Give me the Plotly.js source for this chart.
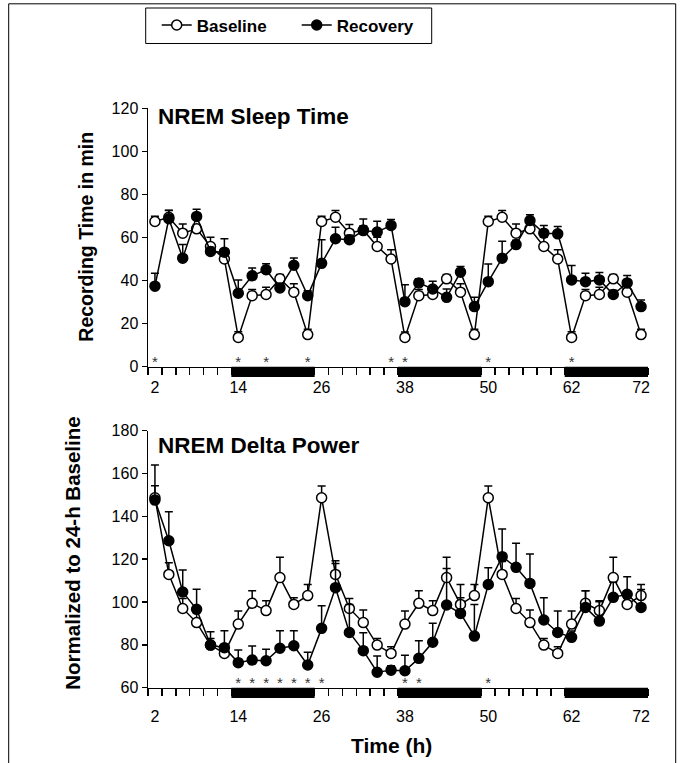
<!DOCTYPE html>
<html>
<head>
<meta charset="utf-8">
<script src="https://cdn.plot.ly/plotly-3.0.1.min.js"></script>
<style>html,body{margin:0;padding:0;background:#fff;}#chart{width:686px;height:763px;}</style>
</head>
<body>
<div id="chart"></div>
<script>
// ---- data ----
const hours = [2,4,6,8,10,12,14,16,18,20,22,24,26,28,30,32,34,36,38,40,42,44,46,48,50,52,54,56,58,60,62,64,66,68,70,72];
const tickHours = [2,14,26,38,50,62,72];
const darkStart = [13,37,61];
const darkEnd = [25,49,73];

const baseSleep = [67.4,69.4,62,64,55.8,50,13.6,33,33.5,40.8,34.6,14.9,
                   67.4,69.4,62,63.5,55.8,50,13.6,33,33.5,40.8,34.6,14.9,
                   67.4,69.4,62,64,55.8,50,13.6,33,33.5,40.8,34.6,14.9];
const baseSleepErr = [2.5,3.1,4.3,2,4.3,2.6,2.6,2.8,3.4,2,3.9,2.5,
                      2.5,3.1,4,2,4.3,4.3,2.5,2.8,3.4,2,3.9,2.5,
                      2.5,3.1,4.3,2,4.3,4.3,2.6,2.8,3.4,2,3.9,2.5];
const recSleep = [37.4,68.7,50.4,69.8,53.5,53.2,34.1,42.2,45,36.6,47.1,33,
                  48,59.4,59,63.2,62.5,65.6,30.2,38.9,36.1,32.2,43.9,27.9,
                  39.5,50.4,56.7,67.9,62,61.7,40.3,39.5,40.3,33.5,38.9,27.9];
const recSleepErr = [6,3.9,6.4,3.3,2,6.2,6.2,3.6,2.8,2,3.4,2.3,
                     10.9,5.4,2,5.4,5,2.8,7.9,1.9,3.6,3.9,2.6,4.3,
                     8.2,7.9,2,2.6,3.6,3.4,6.7,3.9,3.4,2,3.4,3.1];
const sigSleep = [2,14,18,24,36,38,50,62];

const baseDelta = [148.7,112.9,97,90.4,79.9,76,89.7,99.4,96,111.4,98.9,103,
                   148.7,112.9,97,90.4,79.9,76,89.7,99.4,96,111.4,98.9,103,
                   148.7,112.9,97,90.4,79.9,76,89.7,99.4,96,111.4,98.9,103];
const baseDeltaErr = [5.6,5.5,4.7,5.9,3.1,3.1,6.1,5.9,4.6,9.5,3.1,5.2,
                      5.5,6.4,4.7,5.9,3.1,3.1,6.1,5.9,4.6,9.5,3.1,5.2,
                      5.5,6.0,4.7,5.9,3.1,3.1,6.1,5.9,4.6,9.5,3.1,5.2];
const recDelta = [147.6,128.6,104.7,96.6,79.9,78.7,71.7,72.9,72.6,78.4,79.6,70.6,
                  87.7,106.7,85.8,77.3,67.2,68.2,67.9,73.7,81.2,98.6,94.7,84.1,
                  108.2,121.2,116.2,108.7,91.6,85.8,83.5,97.5,91.1,102.2,103.6,97.5];
const recDeltaErr = [16.4,13.6,10.3,9.4,6.2,7.9,5.9,6.6,5.4,8.2,7,5.9,
                     10.6,11.3,13,8.4,7.6,2,7.3,8.2,8.9,17,13.5,14.8,
                     7.8,12.9,11.2,13.7,10.4,10,3,7.8,9,7,8.2,8.4];
const sigDelta = [14,16,18,20,22,24,26,38,40,50];

// ---- styles ----
const FONT = 'Liberation Sans, Arial, sans-serif';
const NARROW = 'Liberation Sans Narrow, Arial Narrow, Liberation Sans, Arial, sans-serif';
const zeros = hours.map(() => 0);

function series(name, y, err, filled, xa, ya, leg) {
  const t = {
    type: 'scatter', mode: 'lines+markers', name: name,
    x: hours, y: y, xaxis: xa, yaxis: ya, showlegend: !!leg,
    line: {color: 'black', width: 1.5},
    marker: {symbol: 'circle', size: 10, color: filled ? 'black' : 'white',
             line: {color: 'black', width: 1.5}},
    error_y: {type: 'data', symmetric: false, array: err, arrayminus: zeros,
              color: 'black', thickness: 1.5, width: 4},
    cliponaxis: false
  };
  if (leg) t.legend = leg;
  return t;
}
function stars(xs, yv, xa, ya) {
  return {type: 'scatter', mode: 'text', x: xs, y: xs.map(() => yv), text: xs.map(() => '*'),
          textfont: {size: 15, color: '#333', family: FONT}, xaxis: xa, yaxis: ya,
          showlegend: false, hoverinfo: 'skip', cliponaxis: false};
}

const traces = [
  series('Baseline', baseSleep, baseSleepErr, false, 'x', 'y', 'legend'),
  series('Recovery', recSleep, recSleepErr, true, 'x', 'y', 'legend2'),
  series('Baseline', baseDelta, baseDeltaErr, false, 'x2', 'y2', null),
  series('Recovery', recDelta, recDeltaErr, true, 'x2', 'y2', null),
  stars(sigSleep, 1.8, 'x', 'y'),
  stars(sigDelta, 61.6, 'x2', 'y2')
];

function xax(anchor, standoff) {
  return {
    anchor: anchor, domain: [0, 1], range: [1, 73],
    tickmode: 'array', tickvals: tickHours, ticktext: tickHours.map(String),
    ticks: '', ticklabelstandoff: standoff,
    tickfont: {family: NARROW, size: 16, color: 'black'},
    showline: true, linecolor: 'black', linewidth: 1.5,
    showgrid: false, zeroline: false,
    minor: {tickmode: 'linear', tick0: 1, dtick: 2, ticks: 'outside', ticklen: 7,
            tickwidth: 1.5, tickcolor: 'black', showgrid: false}
  };
}
function yax(domain, range, vals, suffix) {
  return {
    domain: domain, range: range, tickmode: 'array', tickvals: vals,
    ticksuffix: suffix, ticks: 'outside', ticklen: 5, tickwidth: 1.5, tickcolor: 'black',
    tickfont: {family: NARROW, size: 16, color: 'black'},
    showline: true, linecolor: 'black', linewidth: 1.5,
    showgrid: false, zeroline: false
  };
}

const shapes = [];
darkStart.forEach((s, i) => {
  shapes.push({type: 'rect', xref: 'x', yref: 'y domain', x0: s, x1: darkEnd[i], y0: -0.04, y1: 0,
               fillcolor: 'black', line: {width: 0}, layer: 'above'});
  shapes.push({type: 'rect', xref: 'x2', yref: 'y2 domain', x0: s, x1: darkEnd[i], y0: -0.04, y1: 0,
               fillcolor: 'black', line: {width: 0}, layer: 'above'});
});
// outer frame
shapes.push({type: 'rect', xref: 'paper', yref: 'paper', x0: -0.2786, x1: 1.0554, y0: -0.1, y1: 0.995,
             line: {color: 'black', width: 1}, fillcolor: 'rgba(0,0,0,0)', layer: 'below'});
// legend box
shapes.push({type: 'rect', xref: 'paper', yref: 'paper', x0: -0.0046, x1: 0.5674, y0: 0.9430, y1: 0.9895,
             line: {color: 'black', width: 1}, fillcolor: 'rgba(0,0,0,0)', layer: 'below'});

const annotations = [
  {text: 'NREM Sleep Time', xref: 'paper', yref: 'paper', x: 0.016, y: 0.8467, xanchor: 'left', yanchor: 'middle',
   showarrow: false, font: {family: FONT, size: 22.5, weight: 700, color: 'black'}},
  {text: 'NREM Delta Power', xref: 'paper', yref: 'paper', x: 0.016, y: 0.4155, xanchor: 'left', yanchor: 'middle',
   showarrow: false, font: {family: FONT, size: 22.5, weight: 700, color: 'black'}},
  {text: 'Recording Time in min', xref: 'paper', yref: 'paper', x: -0.1246, y: 0.6894, textangle: -90,
   xanchor: 'center', yanchor: 'middle', showarrow: false, font: {family: FONT, size: 19.5, weight: 700, color: 'black'}},
  {text: 'Normalized to 24-h Baseline', xref: 'paper', yref: 'paper', x: -0.1526, y: 0.2752, textangle: -90,
   xanchor: 'center', yanchor: 'middle', showarrow: false, font: {family: FONT, size: 20.5, weight: 700, color: 'black'}},
  {text: 'Time (h)', xref: 'paper', yref: 'paper', x: 0.486, y: 0.0223, xanchor: 'center', yanchor: 'middle',
   showarrow: false, font: {family: FONT, size: 21, weight: 700, color: 'black'}}
];

const legFont = {family: FONT, size: 17, weight: 700, color: 'black'};
const layout = {
  width: 686, height: 763,
  margin: {l: 148.3, r: 37.7, t: 0, b: 0},
  paper_bgcolor: 'white', plot_bgcolor: 'white',
  showlegend: true,
  legend: {orientation: 'h', x: 0.0174, y: 0.9667, xanchor: 'left', yanchor: 'middle',
           borderwidth: 0, bgcolor: 'rgba(0,0,0,0)', font: legFont},
  legend2: {orientation: 'h', x: 0.2974, y: 0.9667, xanchor: 'left', yanchor: 'middle',
           borderwidth: 0, bgcolor: 'rgba(0,0,0,0)', font: legFont},
  xaxis: xax('y', 6), xaxis2: xax('y2', 14),
  yaxis: yax([0.5194, 0.8581], [0, 120], [0,20,40,60,80,100,120], ''),
  yaxis2: yax([0.0987, 0.4355], [60, 180], [60,80,100,120,140,160,180], '%'),
  shapes: shapes, annotations: annotations
};

Plotly.newPlot('chart', traces, layout, {displayModeBar: false, staticPlot: true});
</script>
</body>
</html>
